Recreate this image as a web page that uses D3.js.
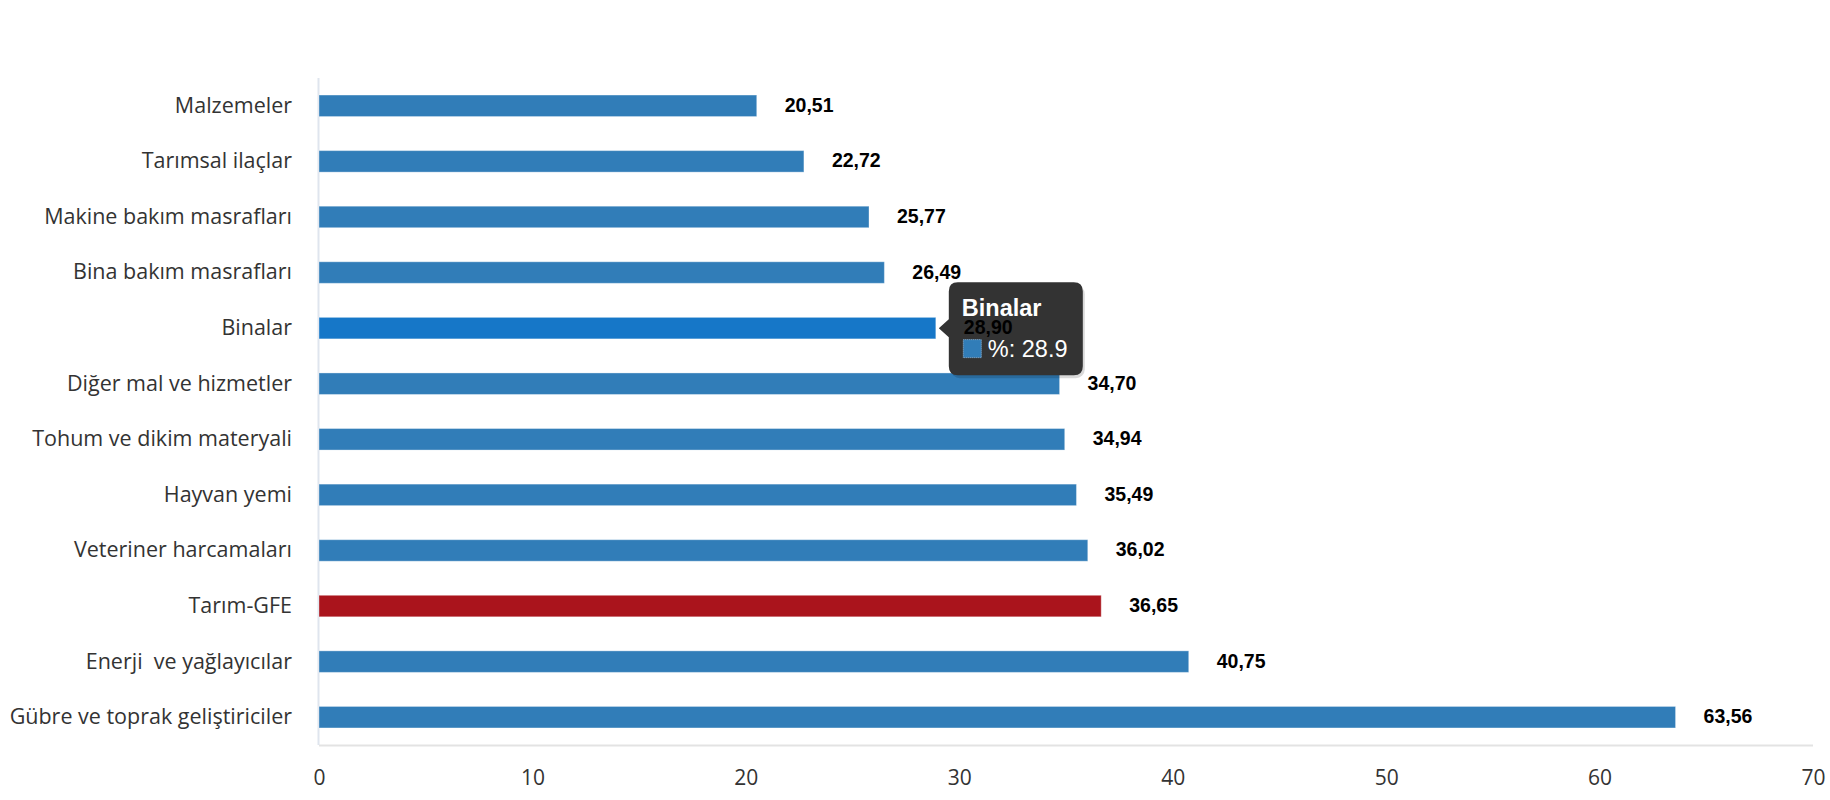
<!DOCTYPE html>
<html><head><meta charset="utf-8">
<script src="https://cdn.jsdelivr.net/npm/d3@7"></script>
<style>body{margin:0;background:#fff;}svg{display:block;}</style>
</head><body>
<svg id="c" width="1830" height="800"></svg>
<script>
const categories = ["Malzemeler","Tarımsal ilaçlar","Makine bakım masrafları","Bina bakım masrafları","Binalar","Diğer mal ve hizmetler","Tohum ve dikim materyali","Hayvan yemi","Veteriner harcamaları","Tarım-GFE","Enerji  ve yağlayıcılar","Gübre ve toprak geliştiriciler"];
const values = [20.51,22.72,25.77,26.49,28.90,34.70,34.94,35.49,36.02,36.65,40.75,63.56];
const xTicks = [0,10,20,30,40,50,60,70];
const highlightCategory = "Tarım-GFE";
const hoverCategory = "Binalar";
const seriesName = "%";

const svg = d3.select("#c");
const L = 319, R = 1813, T = 78, B = 745;
const x = d3.scaleLinear().domain([0,70]).range([L,R]);
const pi = 0.613;
const y = d3.scaleBand().domain(categories).range([T,B]).paddingInner(pi).paddingOuter(pi/2);

// x axis line
svg.append("line").attr("x1",L).attr("x2",R).attr("y1",B+0.5).attr("y2",B+0.5)
  .attr("stroke","#e3e3e3").attr("stroke-width",2);
// y axis line
svg.append("line").attr("x1",L-0.5).attr("x2",L-0.5).attr("y1",T).attr("y2",B)
  .attr("stroke","#dfe5ee").attr("stroke-width",2);

// x tick labels
const xa = svg.append("g").attr("transform",`translate(0,${B})`)
  .call(d3.axisBottom(x).tickValues(xTicks).tickSize(0).tickPadding(25).tickFormat(d3.format("d")));
xa.select(".domain").remove();
xa.selectAll("text").attr("font-family","'Open Sans', sans-serif").attr("font-size",21).attr("fill","#333");

// category labels
const ya = svg.append("g").attr("transform",`translate(${L},0)`)
  .call(d3.axisLeft(y).tickSize(0).tickPadding(27));
ya.select(".domain").remove();
ya.selectAll("text").attr("font-family","'Open Sans', sans-serif").attr("font-size",21.5).attr("fill","#333")
  .style("white-space","pre");

const colorOf = c => c===highlightCategory ? "#aa141c" : (c===hoverCategory ? "#1677c8" : "#317db8");
const data = categories.map((c,i)=>({c, v: values[i]}));

svg.append("g").selectAll("rect").data(data).join("rect")
  .attr("x", x(0)).attr("y", d=>y(d.c)).attr("width", d=>x(d.v)-x(0)).attr("height", y.bandwidth())
  .attr("fill", d=>colorOf(d.c)).attr("stroke","rgba(255,255,255,0.35)").attr("stroke-width",1);

// tooltip
const hv = values[categories.indexOf(hoverCategory)];
const tx = x(hv), ty = y(hoverCategory) + y.bandwidth()/2;
const bx = tx + 13, bw = 134, bh = 93, by = ty - 46;
const tt = svg.append("g");
tt.append("rect").attr("x",bx+2).attr("y",by+3).attr("width",bw).attr("height",bh).attr("rx",9)
  .attr("fill","rgba(0,0,0,0.15)");
tt.append("path")
  .attr("d",`M${bx+9},${by} H${bx+bw-9} Q${bx+bw},${by} ${bx+bw},${by+9} V${by+bh-9} Q${bx+bw},${by+bh} ${bx+bw-9},${by+bh} H${bx+9} Q${bx},${by+bh} ${bx},${by+bh-9} V${ty+9} L${tx+3},${ty} L${bx},${ty-9} V${by+9} Q${bx},${by} ${bx+9},${by} Z`)
  .attr("fill","#333333");
tt.append("text").attr("x",bx+13).attr("y",by+34).text(hoverCategory)
  .attr("font-family","'Liberation Sans', Arial, sans-serif").attr("font-weight","bold").attr("font-size",23.5).attr("fill","#fff");
tt.append("rect").attr("x",bx+14.5).attr("y",by+57.5).attr("width",18).attr("height",18)
  .attr("fill","#317db8").attr("stroke","#8fb8dc").attr("stroke-dasharray","1,1");
tt.append("text").attr("x",bx+39).attr("y",by+75).text(`${seriesName}: ${hv}`)
  .attr("font-family","'Liberation Sans', Arial, sans-serif").attr("font-size",23.5).attr("fill","#fff");

// data labels (drawn over tooltip)
svg.append("g").selectAll("text").data(data).join("text")
  .attr("x", d=>x(d.v)+28).attr("y", d=>y(d.c)+y.bandwidth()/2+6)
  .text(d=>d.v.toFixed(2).replace(".",","))
  .attr("font-family","'Liberation Sans', Arial, sans-serif").attr("font-weight","bold").attr("font-size",19.5).attr("fill","#000");
</script>
</body></html>
